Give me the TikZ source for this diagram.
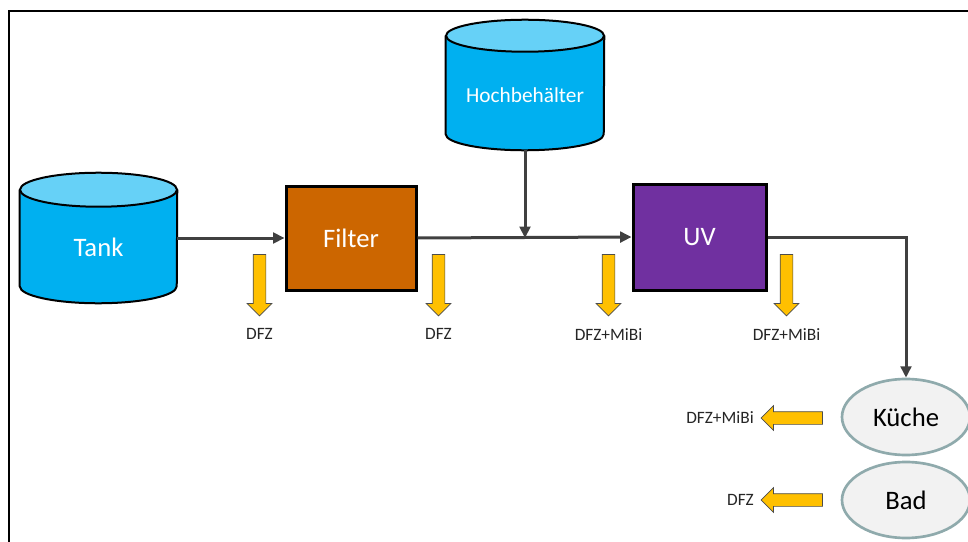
\documentclass[tikz,border=0pt]{standalone}
\usepackage{fontspec}
\setmainfont{Carlito}
\usetikzlibrary{positioning,shapes.geometric,shapes.arrows,arrows.meta}
\definecolor{tankblue}{RGB}{0,176,240}
\definecolor{tanktop}{RGB}{102,209,247}
\definecolor{filterorange}{RGB}{204,102,0}
\definecolor{uvpurple}{RGB}{112,48,160}
\definecolor{flowgray}{RGB}{64,64,64}
\definecolor{dfzyellow}{RGB}{255,192,0}
\definecolor{roomfill}{RGB}{242,242,242}
\definecolor{roomline}{RGB}{143,170,172}
\begin{document}
\begin{tikzpicture}[x=0.75pt,y=-0.75pt,
        vessel/.style={rectangle,inner sep=0pt,text=white},
        vesselline/.style={draw=black,line width=1.5pt},
        unit/.style={rectangle,draw=black,line width=2.25pt,minimum width=97.5pt,minimum height=78pt,
            text=white,font=\fontsize{20}{24}\selectfont},
        room/.style={ellipse,draw=roomline,line width=2pt,fill=roomfill,
            minimum width=96pt,minimum height=57pt,font=\fontsize{20}{24}\selectfont},
        flow/.style={draw=flowgray,line width=2.25pt,-{Triangle[length=8.5pt,width=8pt]}},
        loss/.style={single arrow,draw=black!70,line width=0.5pt,fill=dfzyellow,
            minimum height=46pt,minimum width=18pt,single arrow head extend=4.5pt,inner sep=4.5pt},
        lbl/.style={font=\fontsize{13}{15}\selectfont,text=black!85,inner sep=1pt}]
        \useasboundingbox (0,0) rectangle (968,542);
        \draw[line width=1pt] (9,11) rectangle (990,560);

        \node[vessel,minimum width=117.75pt,minimum height=97.5pt] (tank) at (98.5,238) {};
        \draw[vesselline,fill=tankblue] ([yshift=-12.75pt]tank.north west) -- ([yshift=12.75pt]tank.south west)
            arc[x radius=58.875pt,y radius=12.75pt,start angle=180,end angle=360] -- ([yshift=-12.75pt]tank.north east);
        \draw[vesselline,fill=tanktop] ([yshift=-12.75pt]tank.north) ellipse[x radius=58.875pt,y radius=12.75pt];
        \node[text=white,font=\fontsize{20}{24}\selectfont] (tanklabel) at (98.5,247) {Tank};

        \node[vessel,minimum width=118.5pt,minimum height=97.5pt] (hoch) at (525,85) {};
        \draw[vesselline,fill=tankblue] ([yshift=-12pt]hoch.north west) -- ([yshift=12pt]hoch.south west)
            arc[x radius=59.25pt,y radius=12pt,start angle=180,end angle=360] -- ([yshift=-12pt]hoch.north east);
        \draw[vesselline,fill=tanktop] ([yshift=-12pt]hoch.north) ellipse[x radius=59.25pt,y radius=12pt];
        \node[text=white,font=\fontsize{16}{19}\selectfont] (hochlabel) at (525,95) {Hochbehälter};

        \node[unit,fill=filterorange] (filter) at (351,238) {Filter};
        \node[unit,fill=uvpurple,minimum width=99.75pt,minimum height=79.5pt] (uv) at (699.5,237) {UV};
        \node[room] (kueche) at (906,417) {Küche};
        \node[room] (bad) at (906,500) {Bad};

        \draw[flow] (tank.east) -- (filter.west);
        \draw[flow] (filter.east) -- (uv.west);
        \draw[flow] (hoch.south) -- (hoch.south |- filter.east);
        \draw[flow] (uv.east) -| (kueche.north);

        \node[loss,shape border rotate=270] (l1) at (259.5,282) {};
        \node[loss,shape border rotate=270] (l2) at (438.5,282) {};
        \node[loss,shape border rotate=270] (l3) at (608.5,282) {};
        \node[loss,shape border rotate=270] (l4) at (786.5,282) {};
        \node[loss,shape border rotate=180] (l5) at (795,418) {};
        \node[loss,shape border rotate=180] (l6) at (795,500) {};

        \node[lbl,below=8pt of l1] {DFZ};
        \node[lbl,below=8pt of l2] {DFZ};
        \node[lbl,below=8pt of l3] {DFZ+MiBi};
        \node[lbl,below=8pt of l4] {DFZ+MiBi};
        \node[lbl,left=4pt of l5] {DFZ+MiBi};
        \node[lbl,left=4pt of l6] {DFZ};
\end{tikzpicture}
\end{document}
